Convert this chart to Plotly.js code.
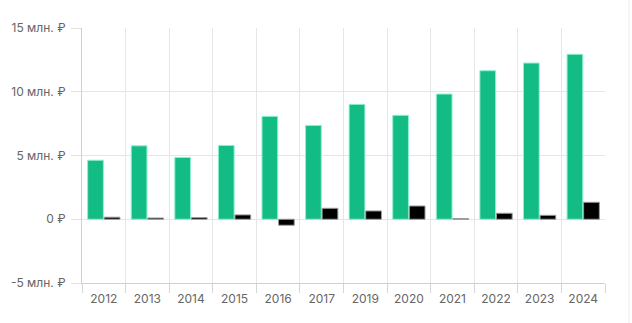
<!DOCTYPE html>
<html>
<head>
<meta charset="utf-8">
<script src="https://cdn.plot.ly/plotly-3.0.1.min.js"></script>
<style>html,body{margin:0;padding:0;background:#fff;}#chart{width:632px;height:323px;}</style>
</head>
<body>
<div id="chart"></div>
<script>
const years = ['2012','2013','2014','2015','2016','2017','2019','2020','2021','2022','2023','2024'];
const greenValues = [4.63, 5.76, 4.85, 5.79, 8.07, 7.36, 9.01, 8.15, 9.82, 11.65, 12.25, 12.94];
const blackValues = [0.16, 0.1, 0.13, 0.34, -0.47, 0.86, 0.65, 1.04, 0.05, 0.47, 0.31, 1.33];
const yTickVals = [-5, 0, 5, 10, 15];
const yTickText = ['-5 млн. ₽', '0 ₽', '5 млн. ₽', '10 млн. ₽', '15 млн. ₽'];

const traces = [
  {type:'bar', x: years, y: greenValues, marker:{color:'#13bb85', line:{color:'#8ff0d0', width:1}}, hoverinfo:'skip'},
  {type:'bar', x: years, y: blackValues, marker:{color:'#000000', line:{color:'#9a9a9a', width:1}}, hoverinfo:'skip'}
];
const layout = {
  width:632, height:323,
  margin:{l:82, r:27, t:28, b:40},
  paper_bgcolor:'#fff', plot_bgcolor:'#fff',
  showlegend:false,
  barmode:'group', bargap:0.24, bargroupgap:0.05,
  font:{family:'Inter, sans-serif', size:12, color:'#666'},
  xaxis:{type:'category', tickson:'boundaries', ticks:'outside', ticklen:9, tickcolor:'#d6d6d6',
    ticklabelstandoff:5,
    showgrid:true, gridcolor:'#e6e6e6', showline:true, linecolor:'#d0d0d0', linewidth:1,
    tickfont:{family:'Inter, sans-serif', size:12, color:'#666'}, fixedrange:true},
  yaxis:{range:[-5,15], tickvals:yTickVals, ticktext:yTickText, ticks:'outside', ticklen:10, tickcolor:'#e2e2e2',
    ticklabelstandoff:3,
    showgrid:true, gridcolor:'#e6e6e6', zeroline:false, showline:true, linecolor:'#d0d0d0', linewidth:1,
    tickfont:{family:'Inter, sans-serif', size:12, color:'#666'}, fixedrange:true},
  shapes:[{type:'line', xref:'paper', yref:'paper', x0:1.0459, x1:1.0459, y0:-0.16, y1:1.15, line:{color:'#ececec', width:1}}]
};
Plotly.newPlot('chart', traces, layout, {displayModeBar:false, staticPlot:true});
</script>
</body>
</html>
